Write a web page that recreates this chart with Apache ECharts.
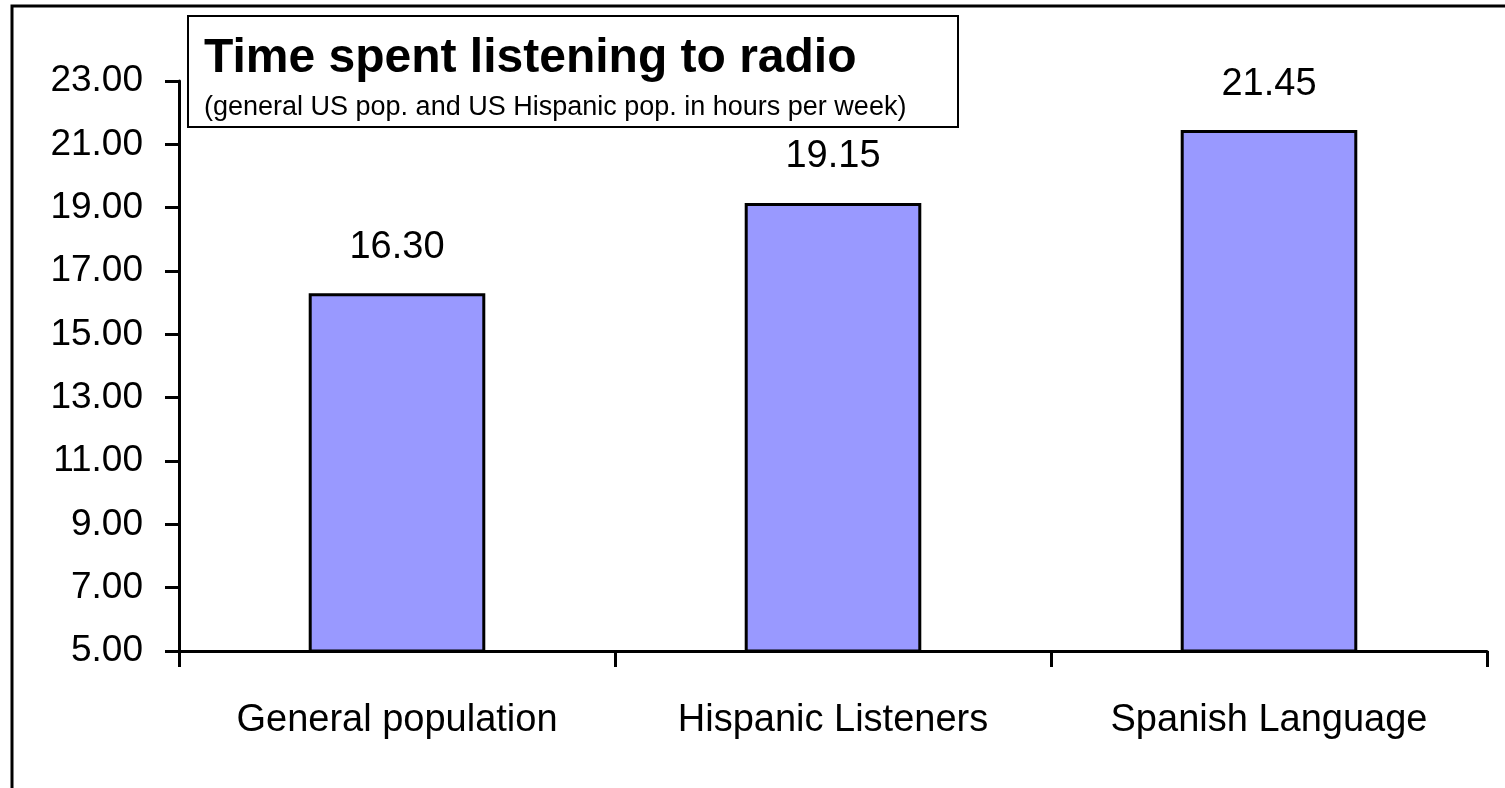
<!DOCTYPE html>
<html>
<head>
<meta charset="utf-8">
<script src="https://cdn.jsdelivr.net/npm/echarts@6/dist/echarts.min.js"></script>
<style>
  html, body { margin: 0; padding: 0; background: #fff; }
  #chart { width: 1505px; height: 788px; }
</style>
</head>
<body>
<div id="chart"></div>
<script>
// chart data
const categories = ['General population', 'Hispanic Listeners', 'Spanish Language']
const hoursPerWeek = [16.30, 19.15, 21.45]
const yMin = 5
const yMax = 23
const yStep = 2

const font = '"Liberation Sans", Arial, sans-serif'

const chart = echarts.init(document.getElementById('chart'))

chart.setOption({
  animation: false,
  backgroundColor: '#fff',
  title: {
    text: 'Time spent listening to radio',
    subtext: '(general US pop. and US Hispanic pop. in hours per week)',
    left: 204,
    top: 35,
    padding: 0,
    itemGap: 11,
    textStyle: {
      fontFamily: font,
      fontSize: 48,
      fontWeight: 'bold',
      color: '#000',
    },
    subtextStyle: {
      fontFamily: font,
      fontSize: 27,
      color: '#000',
    },
  },
  graphic: [
    // outer frame (only left and top show in the picture)
    {
      type: 'rect',
      shape: { x: 12, y: 6, width: 1600, height: 1000 },
      style: { fill: 'none', stroke: '#000', lineWidth: 3 },
      silent: true,
    },
    // box round the title
    {
      type: 'rect',
      shape: { x: 188, y: 16, width: 770, height: 111 },
      style: { fill: 'none', stroke: '#000', lineWidth: 2 },
      z: 10,
      silent: true,
    },
  ],
  grid: {
    left: 179,
    right: 18,
    top: 81,
    bottom: 137,
    containLabel: false,
  },
  xAxis: {
    type: 'category',
    data: categories,
    axisLine: { lineStyle: { color: '#000', width: 3 } },
    axisTick: { show: true, length: 16, lineStyle: { color: '#000', width: 3 } },
    axisLabel: {
      margin: 51,
      fontFamily: font,
      fontSize: 38,
      color: '#000',
    },
  },
  yAxis: {
    type: 'value',
    min: yMin,
    max: yMax,
    interval: yStep,
    splitLine: { show: false },
    axisLine: { show: true, lineStyle: { color: '#000', width: 3 } },
    axisTick: { show: true, length: 14, lineStyle: { color: '#000', width: 3 } },
    axisLabel: {
      margin: 36,
      fontFamily: font,
      fontSize: 37,
      color: '#000',
      formatter: (v) => v.toFixed(2),
    },
  },
  series: [
    {
      type: 'bar',
      data: hoursPerWeek,
      barWidth: '40.5%',
      itemStyle: {
        color: '#9999ff',
        borderColor: '#000',
        borderWidth: 3,
      },
      label: {
        show: true,
        position: 'top',
        distance: 27,
        fontFamily: font,
        fontSize: 38,
        color: '#000',
        formatter: (p) => p.value.toFixed(2),
      },
    },
  ],
})
</script>
</body>
</html>
